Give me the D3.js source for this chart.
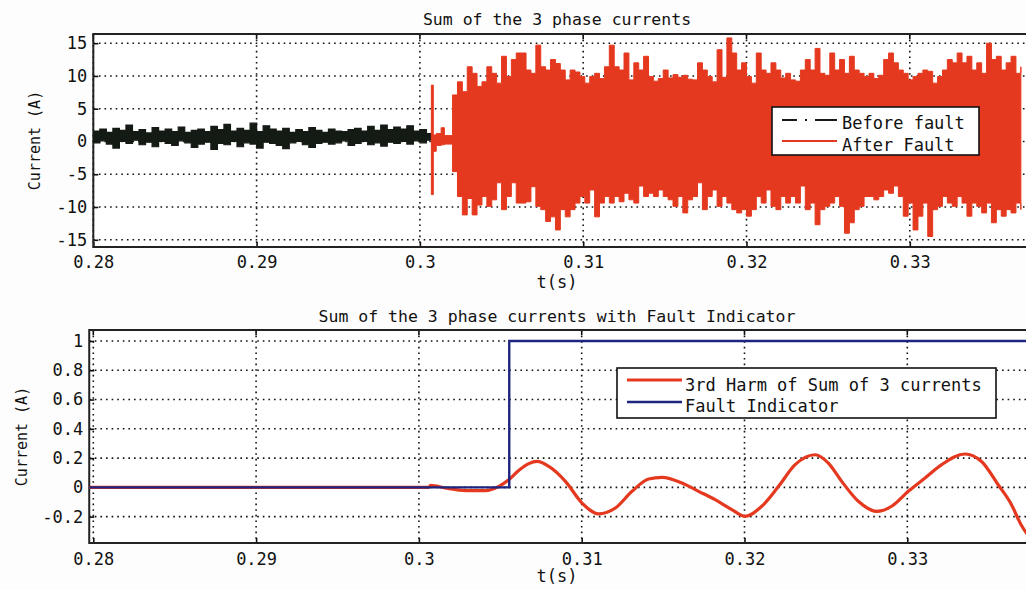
<!DOCTYPE html>
<html>
<head>
<meta charset="utf-8">
<script src="https://cdn.jsdelivr.net/npm/d3@7"></script>
<style>
  body { margin: 0; background: #fdfdfd; }
  svg { display: block; }
  text { font-family: "DejaVu Sans Mono", monospace; fill: #111; }
</style>
</head>
<body>
<svg id="chart" width="1026" height="590"></svg>
<script>
// ---- data ----
// top plot, before fault: band around the noise (sampled every 0.4 ms from 0.28 s)
const beforeT0 = 0.28, beforeDt = 0.0004;
const beforeHi = [1.6, 1.9, 1.4, 2.0, 1.7, 2.5, 1.5, 1.8, 1.3, 2.1, 1.6, 1.9, 1.5, 2.2, 1.4, 1.7, 1.9, 1.5, 2.3, 1.8,
  2.6, 1.6, 2.0, 1.7, 2.8, 1.5, 2.4, 1.9, 1.6, 2.0, 1.4, 1.8, 1.5, 2.1, 1.7, 1.4, 1.9, 1.6, 1.5, 1.8,
  2.0, 1.6, 2.3, 1.7, 2.5, 1.8, 2.2, 1.9, 2.4, 1.6, 1.8, 1.2];
const beforeLo = [-0.2, 0.1, -0.4, -1.0, 0.0, -0.3, 0.2, -0.5, -0.1, -0.8, 0.0, -0.3, -0.6, 0.1, -0.2, -0.9, -0.4, -0.1, -1.2, -0.3,
  -0.5, 0.0, -0.8, -0.2, -0.4, -1.0, -0.1, -0.3, -0.6, -1.1, -0.2, 0.0, -0.5, -0.9, -0.3, -0.1, -0.4, -0.2, 0.1, -0.6,
  -0.3, 0.0, -0.5, -0.2, -0.7, -0.1, -0.3, 0.0, -0.4, 0.1, -0.2, 0.2];

// top plot, fault onset [t, low, high]
const onset = [[0.30070, -8.1, 8.6], [0.30082, -1.5, 1.0], [0.30100, -0.6, 1.2], [0.30130, -0.5, 2.1],
  [0.30150, -0.4, 0.9], [0.30180, -0.4, 0.9]];

// top plot, after fault: peaks (sampled every 0.3 ms from 0.302 s)
const afterT0 = 0.3020, afterDt = 0.0003;
const afterHi = [7.1, 9.1, 7.6, 11.4, 10.4, 8.4, 9.1, 11.4, 10.4, 8.9, 13.0, 9.9, 12.5, 13.5, 13.5, 10.9, 10.4, 14.7, 11.4, 10.9,
  12.5, 11.9, 10.9, 9.4, 10.9, 10.6, 9.9, 8.9, 9.9, 10.4, 9.6, 11.4, 14.7, 11.4, 10.9,
  13.5, 9.4, 12.0, 10.9, 13.0, 9.9, 9.2, 9.6, 10.9, 9.7, 10.2, 9.8, 10.1, 9.5, 9.4, 12.0, 10.9, 9.9, 9.1, 14.0,
  9.8, 15.8, 13.5, 10.9, 12.0, 9.9, 8.9, 13.5, 10.9, 10.4, 12.0, 10.9, 9.7, 10.4, 9.4, 9.2, 10.9, 12.5, 10.9, 14.2, 10.4, 10.1,
  13.5, 10.9, 12.5, 10.4, 13.0, 10.9, 10.4, 9.9, 10.4, 9.6, 10.1, 12.5, 13.5, 12.0, 10.9, 10.4, 9.4, 9.9, 10.4, 10.9,
  10.7, 8.9, 9.9, 10.9, 12.5, 12.0, 13.5, 12.0, 13.0, 10.9, 12.0, 10.4, 15.0, 12.5, 13.0, 10.9, 12.0, 13.0, 10.4, 11.4];
const afterLo = [-4.6, -8.4, -11.2, -8.7, -11.2, -9.7, -8.4, -9.9, -8.9, -6.3, -10.4, -8.4, -6.3, -9.4, -9.4, -9.2, -6.9, -9.9, -10.4, -12.2,
  -11.5, -13.5, -10.4, -11.5, -10.4, -9.4, -8.4, -9.4, -7.4, -11.5, -9.4, -8.4, -9.4, -8.4, -9.2,
  -7.9, -8.9, -9.4, -6.8, -8.4, -7.9, -8.4, -7.4, -8.4, -8.9, -9.9, -8.4, -10.9, -8.9, -8.4, -6.3, -10.4, -8.4, -7.4, -9.9,
  -8.4, -9.4, -10.4, -10.9, -10.4, -11.4, -10.4, -8.4, -9.4, -7.4, -9.9, -10.4, -8.4, -9.4, -8.4, -9.4, -6.8, -10.4, -9.4, -12.7, -10.4, -9.9,
  -9.4, -8.4, -9.9, -14.0, -12.4, -10.4, -9.9, -8.4, -8.4, -8.9, -8.4, -7.4, -7.9, -6.8, -8.4, -11.4, -9.4, -13.5, -11.4, -9.4,
  -14.5, -10.4, -9.9, -8.4, -9.4, -9.9, -8.4, -9.4, -11.4, -9.4, -9.9, -10.9, -9.4, -12.4, -10.4, -11.4, -10.4, -10.9, -9.4, -10.4];

// bottom plot: 3rd harmonic [t, value]
const harm = [[0.27975, 0], [0.3006, 0], [0.30072, 0.014], [0.3016, -0.004], [0.3029, -0.022], [0.3041, -0.022],
  [0.30491, 0.007], [0.30552, 0.052], [0.30613, 0.115], [0.30675, 0.162], [0.30726, 0.177], [0.30798, 0.143],
  [0.30900, 0.041], [0.31002, -0.107], [0.31104, -0.181], [0.31207, -0.141], [0.31309, -0.027], [0.31411, 0.057],
  [0.31493, 0.068], [0.31616, 0.030], [0.31718, -0.027], [0.31820, -0.084], [0.31922, -0.152], [0.32004, -0.198],
  [0.32106, -0.129], [0.32209, 0.007], [0.32311, 0.155], [0.32434, 0.223], [0.32515, 0.166], [0.32597, 0.041],
  [0.32699, -0.095], [0.32812, -0.164], [0.32904, -0.129], [0.33006, -0.027], [0.33109, 0.064], [0.33211, 0.155],
  [0.33354, 0.228], [0.33456, 0.177], [0.33558, 0.018], [0.33640, -0.118], [0.33698, -0.254], [0.3375, -0.34]];

// bottom plot: fault indicator steps [t, value]
const indicator = [[0.27975, 0], [0.30555, 0], [0.30555, 1], [0.345, 1]];

const xTicks = [0.28, 0.29, 0.30, 0.31, 0.32, 0.33];
const yTicksTop = [-15, -10, -5, 0, 5, 10, 15];
const yTicksBot = [-0.2, 0, 0.2, 0.4, 0.6, 0.8, 1];

const red = '#e5391f', navy = '#1d2580', dark = '#141a14';

const svg = d3.select('#chart');

// plain hyphen for negatives, like the original
const fmt = d => d3.format('~g')(d).replace('\u2212', '-');

// ---- scales ----
const xTop = d3.scaleLinear().domain([0.28, 0.34]).range([93.3, 93.3 + 6 * 163.3]);
const yTop = d3.scaleLinear().domain([-16.1, 16.4]).range([247, 34]);
const xBot = d3.scaleLinear().domain([0.28, 0.34]).range([93.3, 93.3 + 6 * 162.8]);
const yBot = d3.scaleLinear().domain([-0.38, 1.075]).range([543, 330]);

function panel(x, y, x0, yTicks, title, titleY, labelX, xLabY, tickPad) {
  const left = x(x0), right = 1100, top = y.range()[1], bottom = y.range()[0];
  const g = svg.append('g');
  g.append('rect').attr('x', left).attr('y', top).attr('width', right - left).attr('height', bottom - top)
    .attr('fill', '#fff');

  // dotted grid
  g.selectAll('.gx').data(xTicks).join('line')
    .attr('x1', d => x(d)).attr('x2', d => x(d)).attr('y1', top).attr('y2', bottom)
    .attr('stroke', '#111').attr('stroke-width', 1.6).attr('stroke-dasharray', '1.6,4');
  g.selectAll('.gy').data(yTicks).join('line')
    .attr('x1', left).attr('x2', right).attr('y1', d => y(d)).attr('y2', d => y(d))
    .attr('stroke', '#111').attr('stroke-width', 1.6).attr('stroke-dasharray', '1.6,4');

  // axes with inward ticks
  const ax = g.append('g').attr('transform', `translate(0,${bottom})`)
    .call(d3.axisBottom(x).tickValues(xTicks).tickSize(-5).tickSizeOuter(0).tickPadding(tickPad).tickFormat(fmt));
  const ay = g.append('g').attr('transform', `translate(${left},0)`)
    .call(d3.axisLeft(y).tickValues(yTicks).tickSize(-5).tickSizeOuter(0).tickPadding(6).tickFormat(fmt));
  [ax, ay].forEach(a => {
    a.select('.domain').remove();
    a.selectAll('line').attr('stroke', '#111').attr('stroke-width', 1.6);
    a.selectAll('text').style('font-family', '"DejaVu Sans Mono", monospace').style('font-size', '17px')
      .attr('fill', '#111');
  });
  // top ticks
  g.selectAll('.tt').data(xTicks).join('line')
    .attr('x1', d => x(d)).attr('x2', d => x(d)).attr('y1', top).attr('y2', top + 5)
    .attr('stroke', '#111').attr('stroke-width', 1.6);

  // box
  g.append('path').attr('d', `M${right},${top}H${left}V${bottom}H${right}`)
    .attr('fill', 'none').attr('stroke', '#222').attr('stroke-width', 2);

  g.append('text').attr('x', 557).attr('y', titleY).attr('text-anchor', 'middle')
    .style('font-size', '16.5px').text(title);
  g.append('text').attr('x', 557).attr('y', xLabY).attr('text-anchor', 'middle')
    .style('font-size', '17px').text('t(s)');
  g.append('text').attr('transform', `translate(${labelX},${(top + bottom) / 2}) rotate(-90)`)
    .attr('text-anchor', 'middle').attr('dy', '0.35em').style('font-size', '15px').text('Current (A)');

  svg.append('clipPath').attr('id', 'clip' + titleY).append('rect')
    .attr('x', left).attr('y', top).attr('width', right - left).attr('height', bottom - top);
  return svg.append('g').attr('clip-path', `url(#clip${titleY})`);
}

// ---- top panel ----
const gTop = panel(xTop, yTop, 0.28, yTicksTop, 'Sum of the 3 phase currents', 25, 35, 288, 9);

const beforeData = beforeHi.map((h, i) => ({ t: beforeT0 + i * beforeDt, lo: beforeLo[i], hi: h }));
beforeData.push({ t: 0.30075, lo: beforeLo[beforeLo.length - 1], hi: beforeHi[beforeHi.length - 1] });
const afterData = onset.map(d => ({ t: d[0], lo: d[1], hi: d[2] }))
  .concat(afterHi.map((h, i) => ({ t: afterT0 + i * afterDt, lo: afterLo[i], hi: h })));

const band = (x, y) => d3.area().curve(d3.curveStepAfter)
  .x(d => x(d.t)).y0(d => y(d.lo)).y1(d => y(d.hi));

gTop.append('path').datum(beforeData).attr('d', band(xTop, yTop))
  .attr('fill', dark).attr('stroke', dark).attr('stroke-width', 1.2);
gTop.append('path').datum(afterData).attr('d', band(xTop, yTop))
  .attr('fill', red).attr('stroke', red).attr('stroke-width', 1);

// top legend
const lg1 = svg.append('g');
lg1.append('rect').attr('x', 772).attr('y', 107).attr('width', 207).attr('height', 48)
  .attr('fill', '#fff').attr('stroke', '#111').attr('stroke-width', 1.6);
lg1.append('line').attr('x1', 782).attr('x2', 837).attr('y1', 120).attr('y2', 120)
  .attr('stroke', dark).attr('stroke-width', 2).attr('stroke-dasharray', '15,8,2,8,30');
lg1.append('line').attr('x1', 782).attr('x2', 837).attr('y1', 141).attr('y2', 141)
  .attr('stroke', red).attr('stroke-width', 2);
lg1.append('text').attr('x', 842).attr('y', 123).attr('dy', '0.35em').style('font-size', '17px').text('Before fault');
lg1.append('text').attr('x', 842).attr('y', 145).attr('dy', '0.35em').style('font-size', '17px').text('After Fault');

// ---- bottom panel ----
const gBot = panel(xBot, yBot, 0.27975, yTicksBot,
  'Sum of the 3 phase currents with Fault Indicator', 322, 22, 582, 10);

const line = (x, y) => d3.line().x(d => x(d[0])).y(d => y(d[1]));
gBot.append('path').datum(harm).attr('d', line(xBot, yBot).curve(d3.curveMonotoneX))
  .attr('fill', 'none').attr('stroke', red).attr('stroke-width', 3.2);
gBot.append('path').datum(indicator).attr('d', line(xBot, yBot))
  .attr('fill', 'none').attr('stroke', navy).attr('stroke-width', 2.4);

// bottom legend
const lg2 = svg.append('g');
lg2.append('rect').attr('x', 617).attr('y', 368).attr('width', 379).attr('height', 50)
  .attr('fill', '#fff').attr('stroke', '#111').attr('stroke-width', 1.6);
lg2.append('line').attr('x1', 627).attr('x2', 682).attr('y1', 380).attr('y2', 380)
  .attr('stroke', red).attr('stroke-width', 3.2);
lg2.append('line').attr('x1', 627).attr('x2', 682).attr('y1', 402).attr('y2', 402)
  .attr('stroke', navy).attr('stroke-width', 2.6);
lg2.append('text').attr('x', 685).attr('y', 385).attr('dy', '0.35em').style('font-size', '17px')
  .text('3rd Harm of Sum of 3 currents');
lg2.append('text').attr('x', 685).attr('y', 406).attr('dy', '0.35em').style('font-size', '17px')
  .text('Fault Indicator');
</script>
</body>
</html>
